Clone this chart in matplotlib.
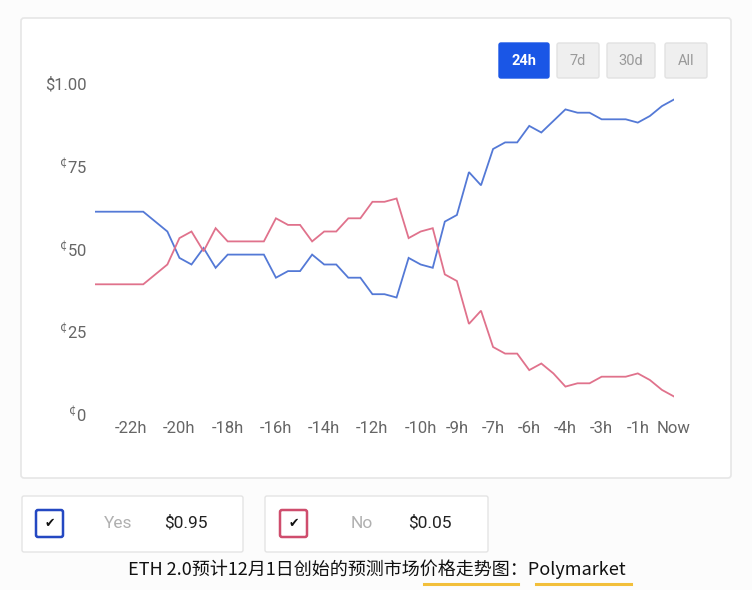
#!/usr/bin/env python3

import matplotlib
matplotlib.use("Agg")
import matplotlib.pyplot as plt
from matplotlib.patches import FancyBboxPatch
from matplotlib.lines import Line2D
from matplotlib.transforms import IdentityTransform

## DATA

# price of each outcome every half hour over the last 24h (49 points)
yes_price = [
	0.61, 0.61, 0.61, 0.61, 0.61, 0.58, 0.55, 0.47, 0.45, 0.50,
	0.44, 0.48, 0.48, 0.48, 0.48, 0.41, 0.43, 0.43, 0.48, 0.45,
	0.45, 0.41, 0.41, 0.36, 0.36, 0.35, 0.47, 0.45, 0.44, 0.58,
	0.60, 0.73, 0.69, 0.80, 0.82, 0.82, 0.87, 0.85, 0.885, 0.92,
	0.91, 0.91, 0.89, 0.89, 0.89, 0.88, 0.90, 0.93, 0.95,
]
no_price = [
	0.39, 0.39, 0.39, 0.39, 0.39, 0.42, 0.45, 0.53, 0.55, 0.49,
	0.56, 0.52, 0.52, 0.52, 0.52, 0.59, 0.57, 0.57, 0.52, 0.55,
	0.55, 0.59, 0.59, 0.64, 0.64, 0.65, 0.53, 0.55, 0.56, 0.42,
	0.40, 0.27, 0.31, 0.20, 0.18, 0.18, 0.13, 0.15, 0.12, 0.08,
	0.09, 0.09, 0.11, 0.11, 0.11, 0.12, 0.10, 0.07, 0.05,
]
x_tick_idx = [3, 7, 11, 15, 19, 23, 27, 30, 33, 36, 39, 42, 45, 48]
x_tick_labels = ["-22h", "-20h", "-18h", "-16h", "-14h", "-12h", "-10h",
	"-9h", "-7h", "-6h", "-4h", "-3h", "-1h", "Now"]
y_ticks = [0, 0.25, 0.5, 0.75, 1.0]
y_tick_labels = ["$^{¢}$0", "$^{¢}$25", "$^{¢}$50", "$^{¢}$75", "$1.00"]
range_buttons = ["24h", "7d", "30d", "All"]
outcomes = ["Yes", "No"]
outcome_prices = ["$0.95", "$0.05"]
caption = "ETH 2.0预计12月1日创始的预测市场价格走势图：Polymarket"

## STYLE

W, H = 752, 590
BLUE = "#5479d6"
RED = "#e0728c"
TICK_GRAY = "#666666"
FONT = "Roboto"

def _box(fig, x0, y0, x1, y1, fc, ec, lw = 1.0, r = 2, z = 1):
	# pixel box, y measured from the top
	p = FancyBboxPatch(
		(x0, H - y1), x1 - x0, y1 - y0,
		boxstyle = f"round,pad=0,rounding_size={r}",
		fc = fc, ec = ec, lw = lw, transform = IdentityTransform(), zorder = z
	)
	fig.add_artist(p)

def _text(fig, x, y, s, **kw):
	fig.text(x / W, 1 - y / H, s, **kw)

## MAIN

fig = plt.figure(figsize = (W / 100, H / 100), dpi = 100, facecolor = "#fcfcfc")

# card
_box(fig, 21, 18, 731, 478, "white", "#e6e6e6", 1.2, 3, z = -5)

ax = fig.add_axes([95 / W, 1 - 413 / H, (674 - 95) / W, (413 - 83) / H])
ax.set_zorder(3)
ax.set_facecolor("none")
xs = list(range(len(yes_price)))
ax.plot(xs, yes_price, color = BLUE, lw = 1.3, solid_joinstyle = "miter")
ax.plot(xs, no_price, color = RED, lw = 1.3, solid_joinstyle = "miter")
ax.set_xlim(0, 48)
ax.set_ylim(0, 1)
for s in ax.spines.values():
	s.set_visible(False)
ax.set_xticks(x_tick_idx)
ax.set_xticklabels(x_tick_labels)
ax.set_yticks(y_ticks)
ax.set_yticklabels(y_tick_labels)
ax.tick_params(length = 0, colors = TICK_GRAY, labelsize = 12)
ax.tick_params(axis = "x", pad = 6)
ax.tick_params(axis = "y", pad = 6)
for lab in ax.get_xticklabels() + ax.get_yticklabels():
	lab.set_fontfamily(FONT)

# range buttons
btn_x = [(499, 549), (557, 599), (607, 655), (665, 707)]
for (x0, x1), name in zip(btn_x, range_buttons):
	active = name == "24h"
	_box(fig, x0, 43, x1, 78,
		"#1a56e6" if active else "#efefef",
		"#1a56e6" if active else "#e2e2e2", 1.0, 2)
	_text(fig, (x0 + x1) / 2, 61, name, ha = "center", va = "center",
		fontsize = 10.5, family = FONT,
		color = "white" if active else "#9a9a9a",
		fontweight = "bold" if active else "normal")

# outcome legend cards
cards = [(22, 243, 36, "#2448c2"), (265, 488, 280, "#cf4d6d")]
for (x0, x1, cx, border), name, price in zip(cards, outcomes, outcome_prices):
	_box(fig, x0, 496, x1, 552, "white", "#e4e4e4", 1.0, 2)
	_box(fig, cx, 510, cx + 27, 537, "white", border, 1.8, 2)
	_text(fig, cx + 13.5, 523.5, "✔", ha = "center", va = "center",
		fontsize = 9, color = "#111111", family = "DejaVu Sans")
	_text(fig, cx + 82, 523, name, ha = "center", va = "center",
		fontsize = 12.5, family = FONT, color = "#b0b0b0")
	_text(fig, cx + 150, 523, price, ha = "center", va = "center",
		fontsize = 12.5, family = FONT, color = "#222222")

# caption with highlight underlines
_text(fig, 377, 569, caption, ha = "center", va = "center", fontsize = 13,
	family = ["Noto Sans CJK SC", "DejaVu Sans"], color = "#111111", style = "italic")
for x0, x1 in [(424, 518), (536, 631)]:
	fig.add_artist(Line2D([x0 / W, x1 / W], [1 - 584 / H, 1 - 584 / H],
		color = "#f2bf3a", lw = 2.2, transform = fig.transFigure))

fig.savefig("out.png", dpi = 100, facecolor = fig.get_facecolor())
